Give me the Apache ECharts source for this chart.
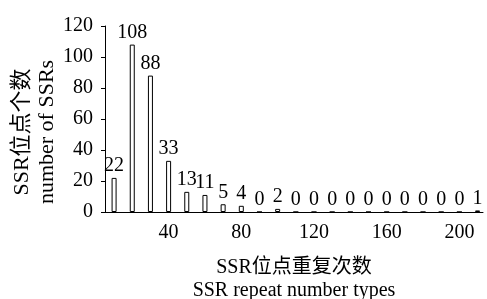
<!DOCTYPE html>
<html>
<head>
<meta charset="utf-8">
<script src="https://cdn.jsdelivr.net/npm/echarts@6/dist/echarts.min.js"></script>
<style>
  html, body { margin: 0; padding: 0; background: #fff; }
  #main { width: 487px; height: 299px; }
</style>
</head>
<body>
<div id="main"></div>
<script>
// repeat number types (x) and SSR counts (y)
const repeats = [10, 20, 30, 40, 50, 60, 70, 80, 90, 100, 110, 120, 130, 140, 150, 160, 170, 180, 190, 200, 210]
const counts = [22, 108, 88, 33, 13, 11, 5, 4, 0, 2, 0, 0, 0, 0, 0, 0, 0, 0, 0, 0, 1]
const xTicks = [40, 80, 120, 160, 200]
const yName = ['SSR位点个数', 'number of SSRs']
const xName = 'SSR位点重复次数\nSSR repeat number types'

const font = '"Liberation Serif", "Noto Sans CJK SC", serif'

var chart = echarts.init(document.getElementById('main'))
let data = repeats.map((r, i) => [r, counts[i]])

let option = {
  animation: false,
  grid: { left: 105, right: 4, top: 26, bottom: 87, outerBoundsMode: 'none', containLabel: false },
  graphic: [
    {
      type: 'text', x: 22, y: 132, rotation: Math.PI / 2,
      style: { text: yName[0], font: '22px ' + font, fill: '#000', textAlign: 'center', textVerticalAlign: 'middle' }
    },
    {
      type: 'text', x: 47, y: 132, rotation: Math.PI / 2,
      style: { text: yName[1], font: '22px ' + font, fill: '#000', textAlign: 'center', textVerticalAlign: 'middle' }
    }
  ],
  xAxis: {
    type: 'value',
    min: 5,
    max: 213,
    name: xName,
    nameLocation: 'middle',
    nameGap: 44,
    nameTextStyle: { fontFamily: font, fontSize: 20, color: '#000', lineHeight: 23 },
    axisLine: { show: true, lineStyle: { color: '#000', width: 1 } },
    axisTick: { show: false },
    splitLine: { show: false },
    axisLabel: { customValues: xTicks, fontFamily: font, fontSize: 20, color: '#000', margin: 11 }
  },
  yAxis: {
    type: 'value',
    min: 0,
    max: 120,
    interval: 20,
    axisLine: { show: true, lineStyle: { color: '#000', width: 1 } },
    axisTick: { show: true, inside: false, length: 4, lineStyle: { color: '#000' } },
    splitLine: { show: false },
    axisLabel: { fontFamily: font, fontSize: 20, color: '#000', margin: 12 }
  },
  series: [{
    type: 'bar',
    data: data,
    barWidth: 5,
    itemStyle: { color: '#fff', borderColor: '#000', borderWidth: 1 },
    label: {
      show: true,
      position: 'top',
      distance: 2,
      fontFamily: font,
      fontSize: 20,
      color: '#000'
    }
  }]
}
chart.setOption(option)
</script>
</body>
</html>
